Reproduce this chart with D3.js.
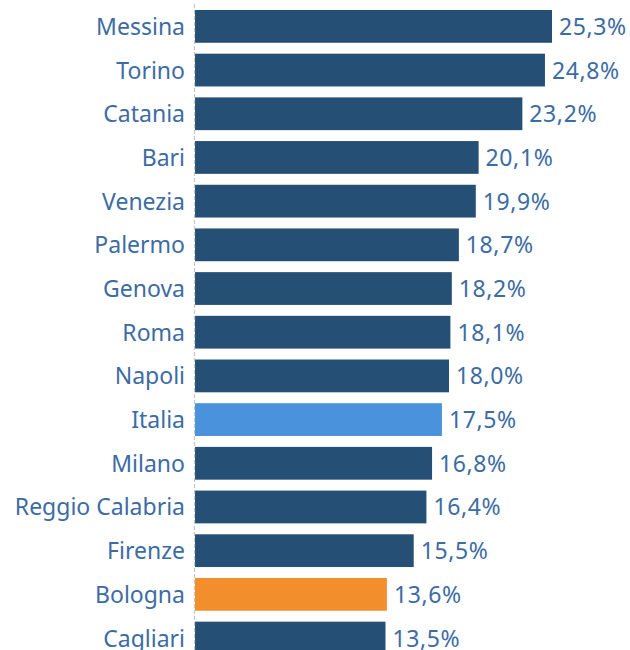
<!DOCTYPE html>
<html lang="it">
<head>
<meta charset="UTF-8">
<title>Bar chart</title>
<script src="https://d3js.org/d3.v7.min.js"></script>
<style>
    body { margin: 0; background: #fff; }
    .label, .value {
        font-family: "Noto Sans", sans-serif;
        font-size: 23px;
        fill: #3c6ca3;
    }
    .value { letter-spacing: 0.6px; }
</style>
</head>
<body>
<div id="chart"></div>
<script>
    const cities = ["Messina", "Torino", "Catania", "Bari", "Venezia", "Palermo", "Genova", "Roma",
        "Napoli", "Italia", "Milano", "Reggio Calabria", "Firenze", "Bologna", "Cagliari"];
    const values = [25.3, 24.8, 23.2, 20.1, 19.9, 18.7, 18.2, 18.1, 18.0, 17.5, 16.8, 16.4, 15.5, 13.6, 13.5];
    const highlight = { "Italia": "#4a93dc", "Bologna": "#f28e2b" };

    const width = 630, height = 650;
    const x0 = 195;
    const step = 43.69;

    const svg = d3.select("#chart").append("svg")
        .attr("width", width)
        .attr("height", height);

    const x = d3.scaleLinear()
        .domain([0, 25.3])
        .range([x0, 552]);

    const y = d3.scaleBand()
        .domain(cities)
        .range([10 - step * 0.125, 10 - step * 0.125 + step * cities.length])
        .paddingInner(0.25)
        .paddingOuter(0.125);

    const data = cities.map((c, i) => ({ city: c, value: values[i] }));

    svg.selectAll("rect")
        .data(data)
        .enter().append("rect")
        .attr("x", x(0))
        .attr("y", d => y(d.city))
        .attr("width", d => x(d.value) - x(0))
        .attr("height", y.bandwidth())
        .attr("fill", d => highlight[d.city] || "#254f74");

    // zero line
    svg.append("line")
        .attr("x1", x0 - 0.5).attr("x2", x0 - 0.5)
        .attr("y1", 4).attr("y2", height)
        .attr("stroke", "#c6c6c6")
        .attr("stroke-width", 1.2)
        .attr("stroke-dasharray", "4,2");

    svg.selectAll(".label")
        .data(data)
        .enter().append("text")
        .attr("class", "label")
        .attr("x", x0 - 10)
        .attr("y", d => y(d.city) + y.bandwidth() / 2)
        .attr("dy", "0.37em")
        .attr("text-anchor", "end")
        .text(d => d.city);

    const fmt = v => d3.format(".1f")(v).replace(".", ",") + "%";

    svg.selectAll(".value")
        .data(data)
        .enter().append("text")
        .attr("class", "value")
        .attr("x", d => x(d.value) + 7)
        .attr("y", d => y(d.city) + y.bandwidth() / 2)
        .attr("dy", "0.37em")
        .text(d => fmt(d.value));
</script>
</body>
</html>
